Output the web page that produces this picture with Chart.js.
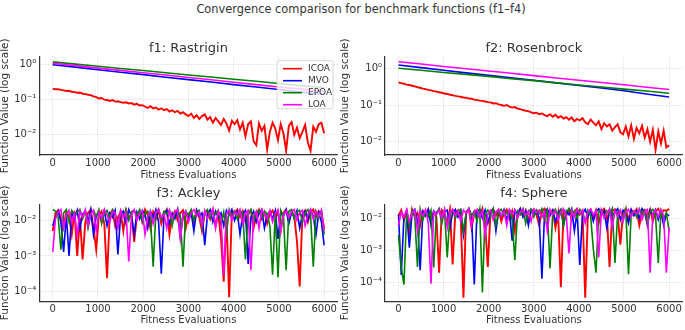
<!DOCTYPE html>
<html>
<head>
<meta charset="utf-8">
<script src="https://cdn.jsdelivr.net/npm/chart.js@4"></script>
<style>
  body { margin: 0; background: #ffffff; }
  #wrap { position: relative; width: 685px; height: 330px; font-family: "DejaVu Sans", sans-serif; }
  #suptitle { position: absolute; left: 111px; top: 2px; width: 500px; text-align: center;
              font-size: 11.4px; line-height: 14px; color: #333333; }
  canvas { position: absolute; }
</style>
</head>
<body>
<div id="wrap">
  <div id="suptitle">Convergence comparison for benchmark functions (f1–f4)</div>
  <canvas id="f1" width="342" height="154" style="left:0px;top:28px"></canvas>
  <canvas id="f2" width="345" height="154" style="left:340px;top:28px"></canvas>
  <canvas id="f3" width="342" height="148" style="left:0px;top:182px"></canvas>
  <canvas id="f4" width="345" height="148" style="left:340px;top:182px"></canvas>
</div>
<script>
// ======================================
// Data
// ======================================

const evals = [0, 60, 120, 180, 240, 300, 360, 420, 480, 540,
    600, 660, 720, 780, 840, 900, 960, 1020, 1080, 1140,
    1200, 1260, 1320, 1380, 1440, 1500, 1560, 1620, 1680, 1740,
    1800, 1860, 1920, 1980, 2040, 2100, 2160, 2220, 2280, 2340,
    2400, 2460, 2520, 2580, 2640, 2700, 2760, 2820, 2880, 2940,
    3000, 3060, 3120, 3180, 3240, 3300, 3360, 3420, 3480, 3540,
    3600, 3660, 3720, 3780, 3840, 3900, 3960, 4020, 4080, 4140,
    4200, 4260, 4320, 4380, 4440, 4500, 4560, 4620, 4680, 4740,
    4800, 4860, 4920, 4980, 5040, 5100, 5160, 5220, 5280, 5340,
    5400, 5460, 5520, 5580, 5640, 5700, 5760, 5820, 5880, 5940, 6000];

const evalsCoarse = [0, 500, 1000, 1500, 2000, 2500, 3000, 3500, 4000, 4500, 5000, 5500, 6000];

const xTicks = [0, 1000, 2000, 3000, 4000, 5000, 6000];
const yTicksTop = [0.01, 0.1, 1];
const yTicksBottom = [0.0001, 0.001, 0.01];
const expLabels = { "0": "10⁰", "-1": "10⁻¹", "-2": "10⁻²", "-3": "10⁻³", "-4": "10⁻⁴" };

const algorithms = ["ICOA", "MVO", "EPOA", "LOA"];
const colors = ["#ff0000", "#0000ff", "#008000", "#ff00ff"];

// f1: Rastrigin
const f1Icoa = [0.205, 0.198, 0.2, 0.19, 0.185, 0.178, 0.18, 0.168, 0.165, 0.158,
    0.16, 0.148, 0.145, 0.138, 0.135, 0.125, 0.118, 0.108, 0.112, 0.1,
    0.098, 0.092, 0.098, 0.088, 0.09, 0.085, 0.082, 0.084, 0.078, 0.08,
    0.072, 0.076, 0.068, 0.07, 0.064, 0.058, 0.065, 0.056, 0.06, 0.052,
    0.057, 0.05, 0.054, 0.046, 0.05, 0.044, 0.048, 0.04, 0.044, 0.038,
    0.034, 0.04, 0.03, 0.036, 0.028, 0.034, 0.038, 0.027, 0.032, 0.022,
    0.03, 0.024, 0.019, 0.028, 0.021, 0.013, 0.025, 0.02, 0.026, 0.014,
    0.022, 0.009, 0.02, 0.024, 0.0065, 0.005, 0.021, 0.013, 0.018, 0.0038,
    0.012, 0.022, 0.015, 0.007, 0.02, 0.011, 0.0035, 0.018, 0.023, 0.01,
    0.016, 0.008, 0.012, 0.019, 0.006, 0.0035, 0.017, 0.012, 0.02, 0.022, 0.011];
const f1Mvo = [1.0, 0.85, 0.72, 0.61, 0.52, 0.44, 0.375, 0.32, 0.27, 0.23, 0.195, 0.165, 0.14];
const f1Epoa = [1.2, 1.04, 0.9, 0.78, 0.68, 0.59, 0.51, 0.445, 0.385, 0.335, 0.29, 0.25, 0.22];
const f1Loa = [1.1, 0.94, 0.8, 0.69, 0.59, 0.505, 0.43, 0.37, 0.315, 0.27, 0.23, 0.2, 0.17];

// f2: Rosenbrock
const f2Icoa = [0.41, 0.395, 0.38, 0.36, 0.35, 0.335, 0.32, 0.305, 0.295, 0.28,
    0.27, 0.258, 0.25, 0.238, 0.232, 0.222, 0.215, 0.205, 0.2, 0.19,
    0.185, 0.178, 0.172, 0.168, 0.16, 0.158, 0.15, 0.148, 0.14, 0.138,
    0.132, 0.13, 0.125, 0.12, 0.118, 0.11, 0.112, 0.104, 0.1, 0.095,
    0.1, 0.09, 0.085, 0.088, 0.08, 0.077, 0.073, 0.07, 0.068, 0.063,
    0.06, 0.062, 0.056, 0.059, 0.053, 0.05, 0.056, 0.048, 0.054, 0.045,
    0.05, 0.043, 0.047, 0.04, 0.046, 0.036, 0.042, 0.038, 0.044, 0.034,
    0.03, 0.04, 0.033, 0.028, 0.036, 0.022, 0.032, 0.026, 0.03, 0.02,
    0.025, 0.03, 0.018, 0.016, 0.026, 0.014, 0.028, 0.012, 0.024, 0.017,
    0.027, 0.013, 0.022, 0.01, 0.021, 0.006, 0.019, 0.009, 0.02, 0.007, 0.008];
const f2Mvo = [1.23, 1.04, 0.88, 0.75, 0.64, 0.55, 0.47, 0.4, 0.34, 0.29, 0.245, 0.2, 0.165];
const f2Epoa = [1.0, 0.88, 0.77, 0.68, 0.6, 0.52, 0.46, 0.4, 0.35, 0.31, 0.27, 0.24, 0.21];
const f2Loa = [1.5, 1.3, 1.12, 0.97, 0.84, 0.73, 0.63, 0.545, 0.47, 0.41, 0.355, 0.305, 0.265];

// f3: Ackley
const f3Icoa = [0.005, 0.016, 0.019, 0.011, 0.007, 0.017, 0.013, 0.004, 0.018, 0.001,
    0.012, 0.0008, 0.009, 0.016, 0.02, 0.006, 0.0015, 0.014, 0.018, 0.008,
    0.00024, 0.015, 0.019, 0.007, 0.012, 0.017, 0.005, 0.019, 0.011, 0.016,
    0.0025, 0.013, 0.018, 0.009, 0.02, 0.014, 0.006, 0.017, 0.011, 0.019,
    0.008, 0.015, 0.02, 0.004, 0.013, 0.018, 0.01, 0.016, 0.019, 0.006,
    0.014, 0.017, 0.009, 0.019, 0.012, 0.005, 0.016, 0.018, 0.011, 0.02,
    0.007, 0.015, 0.003, 0.00019, 0.013, 0.00007, 0.019, 0.016, 0.02, 0.012,
    0.018, 0.009, 0.016, 0.019, 0.006, 0.014, 0.02, 0.011, 0.017, 0.008,
    0.015, 0.019, 0.012, 0.017, 0.005, 0.016, 0.02, 0.01, 0.018, 0.013,
    0.0025, 0.00014, 0.015, 0.019, 0.009, 0.017, 0.02, 0.012, 0.018, 0.016, 0.006];
const f3Mvo = [0.007, 0.012, 0.018, 0.009, 0.0013, 0.014, 0.001, 0.016, 0.011, 0.019,
    0.006, 0.015, 0.018, 0.009, 0.02, 0.004, 0.013, 0.017, 0.011, 0.019,
    0.007, 0.016, 0.012, 0.019, 0.0011, 0.014, 0.018, 0.008, 0.02, 0.013,
    0.004, 0.017, 0.011, 0.019, 0.015, 0.006, 0.018, 0.012, 0.02, 0.009,
    0.00032, 0.014, 0.019, 0.008, 0.016, 0.011, 0.02, 0.003, 0.015, 0.018,
    0.01, 0.017, 0.005, 0.019, 0.013, 0.016, 0.002, 0.014, 0.02, 0.009,
    0.018, 0.012, 0.016, 0.007, 0.019, 0.014, 0.02, 0.01, 0.017, 0.004,
    0.015, 0.019, 0.0006, 0.012, 0.018, 0.009, 0.016, 0.02, 0.006, 0.014,
    0.018, 0.011, 0.019, 0.003, 0.016, 0.013, 0.02, 0.008, 0.017, 0.012,
    0.019, 0.006, 0.015, 0.018, 0.01, 0.02, 0.013, 0.004, 0.016, 0.009, 0.002];
const f3Epoa = [0.02, 0.018, 0.012, 0.0015, 0.016, 0.02, 0.009, 0.019, 0.014, 0.017,
    0.02, 0.011, 0.018, 0.006, 0.015, 0.019, 0.013, 0.02, 0.008, 0.016,
    0.019, 0.012, 0.02, 0.015, 0.007, 0.018, 0.013, 0.02, 0.01, 0.017,
    0.019, 0.014, 0.02, 0.009, 0.016, 0.018, 0.012, 0.0005, 0.017, 0.02,
    0.011, 0.018, 0.015, 0.019, 0.007, 0.016, 0.02, 0.013, 0.0005, 0.018,
    0.014, 0.02, 0.01, 0.017, 0.019, 0.006, 0.016, 0.02, 0.012, 0.018,
    0.015, 0.019, 0.008, 0.017, 0.004, 0.02, 0.013, 0.018, 0.011, 0.019,
    0.016, 0.0008, 0.014, 0.02, 0.009, 0.017, 0.019, 0.012, 0.018, 0.015,
    0.007, 0.0003, 0.016, 0.00025, 0.019, 0.013, 0.0004, 0.018, 0.02, 0.011,
    0.017, 0.019, 0.009, 0.016, 0.02, 0.014, 0.0005, 0.018, 0.012, 0.019, 0.004];
const f3Loa = [0.0013, 0.011, 0.017, 0.02, 0.006, 0.014, 0.019, 0.009, 0.016, 0.004,
    0.018, 0.012, 0.02, 0.007, 0.015, 0.019, 0.005, 0.017, 0.011, 0.02,
    0.014, 0.009, 0.018, 0.016, 0.006, 0.019, 0.012, 0.017, 0.0007, 0.014,
    0.02, 0.01, 0.016, 0.019, 0.004, 0.013, 0.018, 0.008, 0.017, 0.02,
    0.012, 0.015, 0.006, 0.019, 0.011, 0.017, 0.02, 0.003, 0.014, 0.018,
    0.009, 0.016, 0.02, 0.013, 0.017, 0.007, 0.019, 0.011, 0.015, 0.02,
    0.006, 0.018, 0.012, 0.0003, 0.016, 0.019, 0.01, 0.017, 0.014, 0.02,
    0.008, 0.016, 0.019, 0.0004, 0.013, 0.018, 0.006, 0.02, 0.015, 0.011,
    0.019, 0.009, 0.016, 0.02, 0.005, 0.014, 0.018, 0.012, 0.017, 0.02,
    0.01, 0.016, 0.019, 0.007, 0.015, 0.02, 0.011, 0.018, 0.013, 0.019, 0.005];

// f4: Sphere
const f4Icoa = [0.012, 0.018, 0.009, 0.016, 0.004, 0.019, 0.011, 0.015, 0.006, 0.017,
    0.013, 0.019, 0.008, 0.016, 0.011, 0.0002, 0.018, 0.014, 0.007, 0.019,
    0.00036, 0.015, 0.018, 0.01, 0.000033, 0.016, 0.019, 0.005, 0.014, 0.018,
    0.011, 0.02, 0.007, 0.0003, 0.016, 0.019, 0.012, 0.018, 0.008, 0.015,
    0.019, 0.01, 0.017, 0.004, 0.014, 0.02, 0.012, 0.018, 0.009, 0.016,
    0.019, 0.013, 0.006, 0.017, 0.02, 0.011, 0.015, 0.018, 0.005, 0.014,
    0.00007, 0.018, 0.012, 0.019, 0.009, 0.016, 0.02, 0.013, 0.017, 0.000033,
    0.015, 0.019, 0.011, 0.018, 0.007, 0.016, 0.02, 0.013, 0.0003, 0.017,
    0.019, 0.012, 0.0015, 0.016, 0.02, 0.009, 0.018, 0.014, 0.019, 0.006,
    0.015, 0.018, 0.011, 0.019, 0.008, 0.016, 0.02, 0.013, 0.018, 0.017, 0.02];
const f4Mvo = [0.013, 0.00017, 0.011, 0.017, 0.0012, 0.015, 0.019, 0.008, 0.00024, 0.016,
    0.012, 0.019, 0.006, 0.017, 0.014, 0.02, 0.009, 0.016, 0.018, 0.005,
    0.015, 0.019, 0.011, 0.017, 0.003, 0.014, 0.02, 0.012, 0.000085, 0.016,
    0.019, 0.01, 0.018, 0.007, 0.015, 0.02, 0.004, 0.017, 0.012, 0.019,
    0.009, 0.016, 0.002, 0.018, 0.013, 0.02, 0.011, 0.017, 0.006, 0.019,
    0.014, 0.018, 0.01, 0.00013, 0.016, 0.02, 0.012, 0.018, 0.008, 0.015,
    0.019, 0.006, 0.017, 0.013, 0.02, 0.004, 0.016, 0.00035, 0.014, 0.019,
    0.011, 0.018, 0.008, 0.016, 0.02, 0.013, 0.017, 0.005, 0.019, 0.012,
    0.016, 0.02, 0.009, 0.018, 0.014, 0.007, 0.019, 0.012, 0.017, 0.01,
    0.02, 0.015, 0.006, 0.018, 0.013, 0.019, 0.009, 0.016, 0.006, 0.014, 0.012];
const f4Epoa = [0.003, 0.0003, 0.000085, 0.014, 0.006, 0.017, 0.012, 0.0003, 0.019, 0.009,
    0.016, 0.011, 0.018, 0.00029, 0.015, 0.019, 0.007, 0.017, 0.0006, 0.013,
    0.018, 0.01, 0.016, 0.019, 0.004, 0.015, 0.02, 0.012, 0.017, 0.008,
    0.019, 0.000048, 0.014, 0.018, 0.011, 0.02, 0.006, 0.016, 0.019, 0.012,
    0.015, 0.018, 0.009, 0.0005, 0.017, 0.013, 0.02, 0.007, 0.016, 0.019,
    0.011, 0.018, 0.014, 0.02, 0.009, 0.017, 0.00027, 0.015, 0.019, 0.012,
    0.018, 0.006, 0.016, 0.02, 0.013, 0.017, 0.01, 0.019, 0.015, 0.008,
    0.018, 0.012, 0.0011, 0.0002, 0.016, 0.019, 0.011, 0.017, 0.013, 0.02,
    0.0004, 0.015, 0.018, 0.009, 0.019, 0.00018, 0.014, 0.017, 0.011, 0.02,
    0.013, 0.018, 0.007, 0.016, 0.019, 0.012, 0.0004, 0.017, 0.01, 0.015, 0.004];
const f4Loa = [0.006, 0.016, 0.011, 0.019, 0.008, 0.015, 0.018, 0.004, 0.017, 0.012,
    0.019, 0.007, 0.00009, 0.016, 0.013, 0.018, 0.01, 0.019, 0.005, 0.015,
    0.019, 0.012, 0.017, 0.008, 0.018, 0.014, 0.02, 0.006, 0.016, 0.019,
    0.011, 0.017, 0.003, 0.014, 0.018, 0.009, 0.016, 0.019, 0.012, 0.017,
    0.006, 0.019, 0.014, 0.018, 0.01, 0.016, 0.019, 0.012, 0.017, 0.008,
    0.019, 0.015, 0.018, 0.011, 0.016, 0.004, 0.019, 0.013, 0.017, 0.009,
    0.015, 0.019, 0.012, 0.0008, 0.017, 0.011, 0.019, 0.014, 0.018, 0.007,
    0.016, 0.019, 0.013, 0.017, 0.0006, 0.018, 0.01, 0.015, 0.019, 0.005,
    0.017, 0.012, 0.018, 0.008, 0.016, 0.019, 0.011, 0.017, 0.014, 0.019,
    0.009, 0.016, 0.019, 0.0002, 0.014, 0.018, 0.011, 0.019, 0.012, 0.0002, 0.005];

// ======================================
// Shared styling
// ======================================

const FONT = "DejaVu Sans";
const TEXT = "#333333";

// legend box drawn inside the plot area (top right), like matplotlib's
const legendBox = {
    id: "legendBox",
    afterDatasetsDraw(chart) {
        const ctx = chart.ctx;
        const area = chart.chartArea;
        const w = 56, h = 48;
        const x0 = area.right - w - 4.7;
        const y0 = area.top + 4.2;

        ctx.save();
        ctx.fillStyle = "rgba(255,255,255,0.8)";
        ctx.strokeStyle = "#cccccc";
        ctx.lineWidth = 0.8;
        ctx.beginPath();
        ctx.roundRect(x0, y0, w, h, 2);
        ctx.fill();
        ctx.stroke();

        ctx.font = "9px '" + FONT + "'";
        ctx.textBaseline = "middle";
        ctx.textAlign = "left";
        algorithms.forEach((name, i) => {
            const y = y0 + 8 + i * 12;
            ctx.strokeStyle = colors[i];
            ctx.lineWidth = 1.6;
            ctx.beginPath();
            ctx.moveTo(x0 + 6, y);
            ctx.lineTo(x0 + 25, y);
            ctx.stroke();
            ctx.fillStyle = TEXT;
            ctx.fillText(name, x0 + 31, y);
        });
        ctx.restore();
    }
};

function makeChart(id, title, series, yMinExp, yMaxExp, yTicks, box, withLegend) {

    const datasets = series.map((s, i) => ({
        label: algorithms[i],
        data: s[0].map((x, j) => ({ x: x, y: s[1][j] })),
        borderColor: colors[i],
        backgroundColor: colors[i],
        borderWidth: i === 0 ? 1.9 : 1.6,
        pointRadius: 0,
        tension: 0,
        fill: false,
        order: 4 - i
    }));

    const grid = {
        color: "#cccccc",
        lineWidth: 0.8,
        drawTicks: false
    };

    const border = { display: true, color: "#333333", width: 1.2, dash: [1, 1.6] };

    return new Chart(document.getElementById(id), {

        type: "line",

        data: { datasets: datasets },

        plugins: withLegend ? [legendBox] : [],

        options: {

            responsive: false,
            animation: false,
            devicePixelRatio: 1,

            layout: { padding: { left: 0, right: box.padRight, top: 0, bottom: 0 } },

            plugins: {
                legend: { display: false },
                tooltip: { enabled: false },
                title: {
                    display: true,
                    text: title,
                    fullSize: false,
                    color: TEXT,
                    font: { family: FONT, size: 13, weight: "normal", lineHeight: 1.1 },
                    padding: { top: box.titleTop, bottom: box.titleBottom }
                }
            },

            scales: {

                x: {
                    type: "linear",
                    min: -300,
                    max: 6300,
                    afterBuildTicks: axis => { axis.ticks = xTicks.map(v => ({ value: v })); },
                    afterFit: scale => { scale.height = box.xHeight; },
                    ticks: {
                        color: TEXT,
                        font: { family: FONT, size: 10 },
                        padding: 2,
                        maxRotation: 0,
                        autoSkip: false,
                        callback: v => String(v)
                    },
                    grid: grid,
                    border: border,
                    title: {
                        display: true,
                        text: "Fitness Evaluations",
                        color: TEXT,
                        font: { family: FONT, size: 10, lineHeight: 1.2 },
                        padding: { top: 0, bottom: box.xTitleBottom }
                    }
                },

                y: {
                    type: "logarithmic",
                    min: Math.pow(10, yMinExp),
                    max: Math.pow(10, yMaxExp),
                    afterBuildTicks: axis => { axis.ticks = yTicks.map(v => ({ value: v })); },
                    afterFit: scale => { scale.width = box.yWidth; },
                    ticks: {
                        color: TEXT,
                        font: { family: FONT, size: 10 },
                        padding: 3,
                        autoSkip: false,
                        callback: v => expLabels[String(Math.round(Math.log10(v)))]
                    },
                    grid: grid,
                    border: border,
                    title: {
                        display: true,
                        text: "Function Value (log scale)",
                        color: TEXT,
                        font: { family: FONT, size: 10.5, lineHeight: 1 },
                        padding: 0
                    }
                }
            }
        }
    });
}

// ===========================
// Layout per subplot
// ===========================

const topLeft = { yWidth: 39.2, padRight: 4.3, xHeight: 27, titleTop: 13.85, titleBottom: 0.35, xTitleBottom: 1 };
const topRight = { yWidth: 45, padRight: 2.4, xHeight: 27, titleTop: 13.85, titleBottom: 0.35, xTitleBottom: 1 };
const botLeft = { yWidth: 39.2, padRight: 4.3, xHeight: 28.8, titleTop: 4.85, titleBottom: 3.15, xTitleBottom: 4 };
const botRight = { yWidth: 45, padRight: 2.4, xHeight: 28.8, titleTop: 4.85, titleBottom: 3.15, xTitleBottom: 4 };

makeChart("f1", "f1: Rastrigin",
    [[evals, f1Icoa], [evalsCoarse, f1Mvo], [evalsCoarse, f1Epoa], [evalsCoarse, f1Loa]],
    -2.58, 0.234, yTicksTop, topLeft, true);

makeChart("f2", "f2: Rosenbrock",
    [[evals, f2Icoa], [evalsCoarse, f2Mvo], [evalsCoarse, f2Epoa], [evalsCoarse, f2Loa]],
    -2.36, 0.32, yTicksTop, topRight, false);

makeChart("f3", "f3: Ackley",
    [[evals, f3Icoa], [evals, f3Mvo], [evals, f3Epoa], [evals, f3Loa]],
    -4.266, -1.552, yTicksBottom, botLeft, false);

makeChart("f4", "f4: Sphere",
    [[evals, f4Icoa], [evals, f4Mvo], [evals, f4Epoa], [evals, f4Loa]],
    -4.59, -1.5625, yTicksBottom, botRight, false);
</script>
</body>
</html>
